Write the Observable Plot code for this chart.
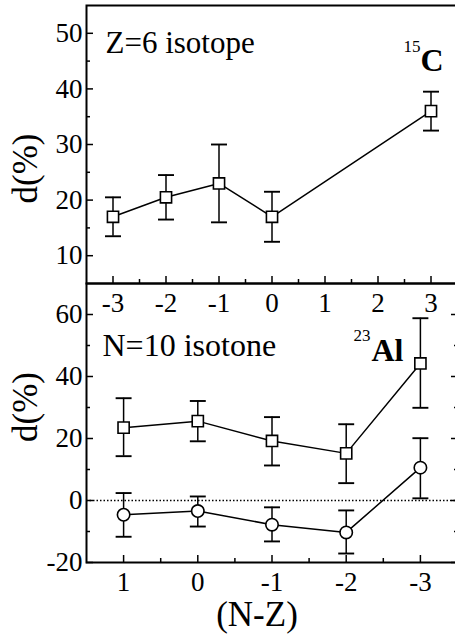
<!DOCTYPE html>
<html><head><meta charset="utf-8">
<script src="https://cdn.jsdelivr.net/npm/d3@7"></script>
<script src="https://cdn.jsdelivr.net/npm/@observablehq/plot@0.6"></script>
<style>
html,body{margin:0;padding:0;background:#fff;overflow:hidden;}
#chart{position:relative;width:455px;height:635px;overflow:hidden;background:#fff;}
#chart svg{position:absolute !important;left:0;top:0;max-width:none !important;width:470px !important;background:transparent !important;overflow:visible;}
#chart svg, #chart svg text{font-family:'Liberation Serif','Times New Roman',serif !important;}
</style></head><body><div id="chart"></div>
<script>
// ---- data: top panel (Z=6 isotope) ----
const topX  = [-3, -2, -1, 0, 3];
const topD  = [17, 20.5, 23, 17, 36];
const topLo = [13.5, 16.5, 16, 12.5, 32.5];
const topHi = [20.5, 24.5, 30, 21.5, 39.5];
// ---- data: bottom panel (N=10 isotone) ----
const botX  = [1, 0, -1, -2, -3];
const sqD   = [23.5, 25.6, 19.2, 15.2, 44.2];
const sqLo  = [14.3, 19.1, 11.3, 5.6, 29.9];
const sqHi  = [33, 32.1, 26.9, 24.6, 58.8];
const ciD   = [-4.6, -3.4, -7.8, -10.3, 10.6];
const ciLo  = [-11.7, -8.4, -13.2, -17.1, 0.7];
const ciHi  = [2.4, 1.3, -2.2, -3.2, 20.1];
// ---- ticks / domains ----
const topTicksX = [-3, -2, -1, 0, 1, 2, 3];
const topMinorX = [-2.5, -1.5, -0.5, 0.5, 1.5, 2.5];
const topTicksY = [10, 20, 30, 40, 50];
const topMinorY = [15, 25, 35, 45];
const botTicksX = [1, 0, -1, -2, -3];
const botMinorX = [0.5, -0.5, -1.5, -2.5];
const botTicksY = [-20, 0, 20, 40, 60];
const botMinorY = [-10, 10, 30, 50];
const topDomX = [-3.5, 3.5], topDomY = [5, 55];
const botDomX = [1.5, -3.5], botDomY = [-20, 70];
const yTitle = "d(%)", xTitle = "(N-Z)";

const rows = (xs, d, lo, hi) => xs.map((x, i) => ({x, d: d[i], lo: lo[i], hi: hi[i]}));
const topRows = rows(topX, topD, topLo, topHi);
const sqRows = rows(botX, sqD, sqLo, sqHi);
const ciRows = rows(botX, ciD, ciLo, ciHi);

const FONT = "Liberation Serif";
const capSymbol = {draw(ctx, size) { const w = Math.sqrt(size); ctx.moveTo(-w / 2, 0); ctx.lineTo(w / 2, 0); }};
const fmt = d => String(d);
const none = () => "";

function axes(xt, xm, yt, ym, right) {
  const m = [
    Plot.axisX(xt, {anchor: "bottom", tickSize: 0, tickPadding: 9, tickFormat: fmt, fontSize: 27, fontFamily: FONT, label: null}),
    Plot.axisX(xt, {anchor: "bottom", tickSize: -7, tickFormat: none, label: null, strokeWidth: 1.5}),
    Plot.axisX(xm, {anchor: "bottom", tickSize: -4, tickFormat: none, label: null, strokeWidth: 1.5}),
    Plot.axisY(yt, {anchor: "left", tickSize: 0, tickPadding: 4, tickFormat: fmt, fontSize: 27, fontFamily: FONT, label: null}),
    Plot.axisY(yt, {anchor: "left", tickSize: -7, tickFormat: none, label: null, strokeWidth: 1.5}),
    Plot.axisY(ym, {anchor: "left", tickSize: -4, tickFormat: none, label: null, strokeWidth: 1.5})
  ];
  if (right) {
    m.push(Plot.axisY(yt, {anchor: "right", tickSize: -7, tickFormat: none, label: null, strokeWidth: 1.5}));
    m.push(Plot.axisY(ym, {anchor: "right", tickSize: -4, tickFormat: none, label: null, strokeWidth: 1.5}));
  }
  return m;
}
function series(data, symbol, r) {
  return [
    Plot.ruleX(data, {x: "x", y1: "lo", y2: "hi", stroke: "black", strokeWidth: 1.5}),
    Plot.dot(data, {x: "x", y: "lo", symbol: capSymbol, r: 9, stroke: "black", strokeWidth: 1.9}),
    Plot.dot(data, {x: "x", y: "hi", symbol: capSymbol, r: 9, stroke: "black", strokeWidth: 1.9}),
    Plot.line(data, {x: "x", y: "d", stroke: "black", strokeWidth: 1.5}),
    Plot.dot(data, {x: "x", y: "d", symbol, r, fill: "white", stroke: "black", strokeWidth: 1.6})
  ];
}
const txt = (s, o) => Plot.text([s], {text: d => d, fontFamily: FONT, ...o});

const bottomPanel = Plot.plot({
  width: 470, height: 635, marginLeft: 86, marginRight: 13, marginTop: 283, marginBottom: 73,
  x: {domain: botDomX}, y: {domain: botDomY},
  marks: [
    Plot.ruleY([0], {stroke: "black", strokeWidth: 1.3, strokeDasharray: "1.5,2"}),
    ...series(sqRows, "square", 6.3),
    ...series(ciRows, "circle", 6.2),
    ...axes(botTicksX, botMinorX, botTicksY, botMinorY, true),
    Plot.frame({stroke: "black", strokeWidth: 2}),
    txt("N=10 isotone", {frameAnchor: "top-left", dx: 16, dy: 72, textAnchor: "start", lineAnchor: "bottom", fontSize: 32}),
    txt("23", {frameAnchor: "top-left", dx: 267, dy: 57, textAnchor: "start", lineAnchor: "bottom", fontSize: 17}),
    txt("Al", {frameAnchor: "top-left", dx: 285, dy: 77, textAnchor: "start", lineAnchor: "bottom", fontSize: 32, fontWeight: "bold"}),
    txt(yTitle, {frameAnchor: "left", dx: -61, dy: -16, rotate: -90, textAnchor: "middle", lineAnchor: "middle", fontSize: 35}),
    txt(xTitle, {frameAnchor: "bottom", dx: -15, dy: 52, textAnchor: "middle", lineAnchor: "middle", fontSize: 35})
  ]
});

const topPanel = Plot.plot({
  width: 470, height: 313, marginLeft: 86, marginRight: 13, marginTop: 5, marginBottom: 30,
  x: {domain: topDomX}, y: {domain: topDomY},
  marks: [
    ...series(topRows, "square", 6.3),
    ...axes(topTicksX, topMinorX, topTicksY, topMinorY, false),
    Plot.frame({stroke: "black", strokeWidth: 2}),
    txt("Z=6 isotope", {frameAnchor: "top-left", dx: 19, dy: 47, textAnchor: "start", lineAnchor: "bottom", fontSize: 31}),
    txt("15", {frameAnchor: "top-left", dx: 317, dy: 46, textAnchor: "start", lineAnchor: "bottom", fontSize: 17}),
    txt("C", {frameAnchor: "top-left", dx: 334, dy: 65, textAnchor: "start", lineAnchor: "bottom", fontSize: 32, fontWeight: "bold"}),
    txt(yTitle, {frameAnchor: "left", dx: -61, dy: 24, rotate: -90, textAnchor: "middle", lineAnchor: "middle", fontSize: 35})
  ]
});
const el = document.getElementById("chart");
el.appendChild(bottomPanel);
el.appendChild(topPanel);
</script></body></html>
